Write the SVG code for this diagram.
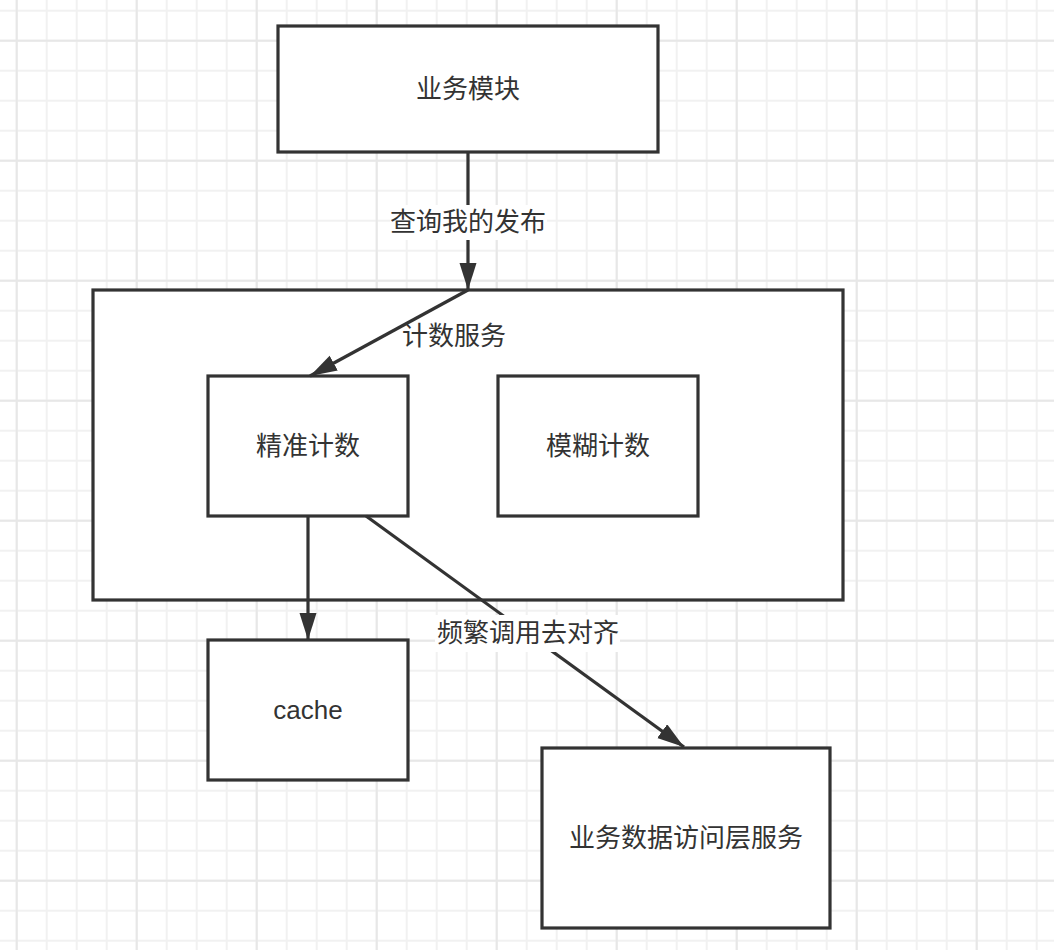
<svg xmlns="http://www.w3.org/2000/svg" width="1054" height="950" viewBox="0 0 1054 950">
  <style>
    .box { fill: #ffffff; stroke: #333333; stroke-width: 3.2; }
    .lbl { font-family: "Liberation Sans", "Noto Sans CJK SC", sans-serif; font-size: 26px; fill: #333333; text-anchor: middle; dominant-baseline: central; }
    .edge { fill: none; stroke: #333333; stroke-width: 3.2; }
    .bg { fill: #ffffff; }
  </style>
  <defs>
    <pattern id="minor" x="15.7" y="9.7" width="30" height="30" patternUnits="userSpaceOnUse">
      <rect x="0" y="0" width="2" height="30" fill="#f1f1f1"/>
      <rect x="0" y="0" width="30" height="2" fill="#f1f1f1"/>
    </pattern>
    <pattern id="major" x="15.7" y="39.7" width="120" height="120" patternUnits="userSpaceOnUse">
      <rect x="0" y="0" width="2" height="120" fill="#e7e7e7"/>
      <rect x="0" y="0" width="120" height="2" fill="#e7e7e7"/>
    </pattern>
    <marker id="arrow" markerUnits="userSpaceOnUse" markerWidth="28" markerHeight="18" refX="27" refY="8.5" orient="auto">
      <path d="M0,0 L27,8.5 L0,17 z" fill="#333333"/>
    </marker>
  </defs>
  <rect width="1054" height="950" fill="#ffffff"/>
  <rect width="1054" height="950" fill="url(#minor)"/>
  <rect width="1054" height="950" fill="url(#major)"/>

  <g id="node-business">
    <rect class="box" x="278" y="26" width="380" height="126"/>
    <text class="lbl" x="468" y="89">业务模块</text>
  </g>
  <g id="node-count-service">
    <rect class="box" x="93" y="290" width="750" height="310"/>
  </g>
  <g id="node-exact">
    <rect class="box" x="208" y="376" width="200" height="140"/>
    <text class="lbl" x="308" y="446">精准计数</text>
  </g>
  <g id="node-fuzzy">
    <rect class="box" x="498" y="376" width="200" height="140"/>
    <text class="lbl" x="598" y="446">模糊计数</text>
  </g>
  <g id="node-cache">
    <rect class="box" x="208" y="640" width="200" height="140"/>
    <text class="lbl" x="308" y="710">cache</text>
  </g>
  <g id="node-dal">
    <rect class="box" x="542" y="748" width="288" height="180"/>
    <text class="lbl" x="686" y="838">业务数据访问层服务</text>
  </g>

  <g id="connectors">
    <line class="edge" x1="468" y1="152" x2="468" y2="290" marker-end="url(#arrow)"/>
    <rect class="bg" x="390" y="205" width="157" height="35"/>
    <text class="lbl" x="468" y="222">查询我的发布</text>

    <line class="edge" x1="468" y1="290" x2="310" y2="376" marker-end="url(#arrow)"/>
    <text class="lbl" x="454" y="336">计数服务</text>

    <line class="edge" x1="308" y1="516" x2="308" y2="640" marker-end="url(#arrow)"/>

    <line class="edge" x1="366" y1="516" x2="684" y2="747" marker-end="url(#arrow)"/>
    <rect class="bg" x="435" y="615" width="185" height="37"/>
    <text class="lbl" x="528" y="633">频繁调用去对齐</text>
  </g>
</svg>
